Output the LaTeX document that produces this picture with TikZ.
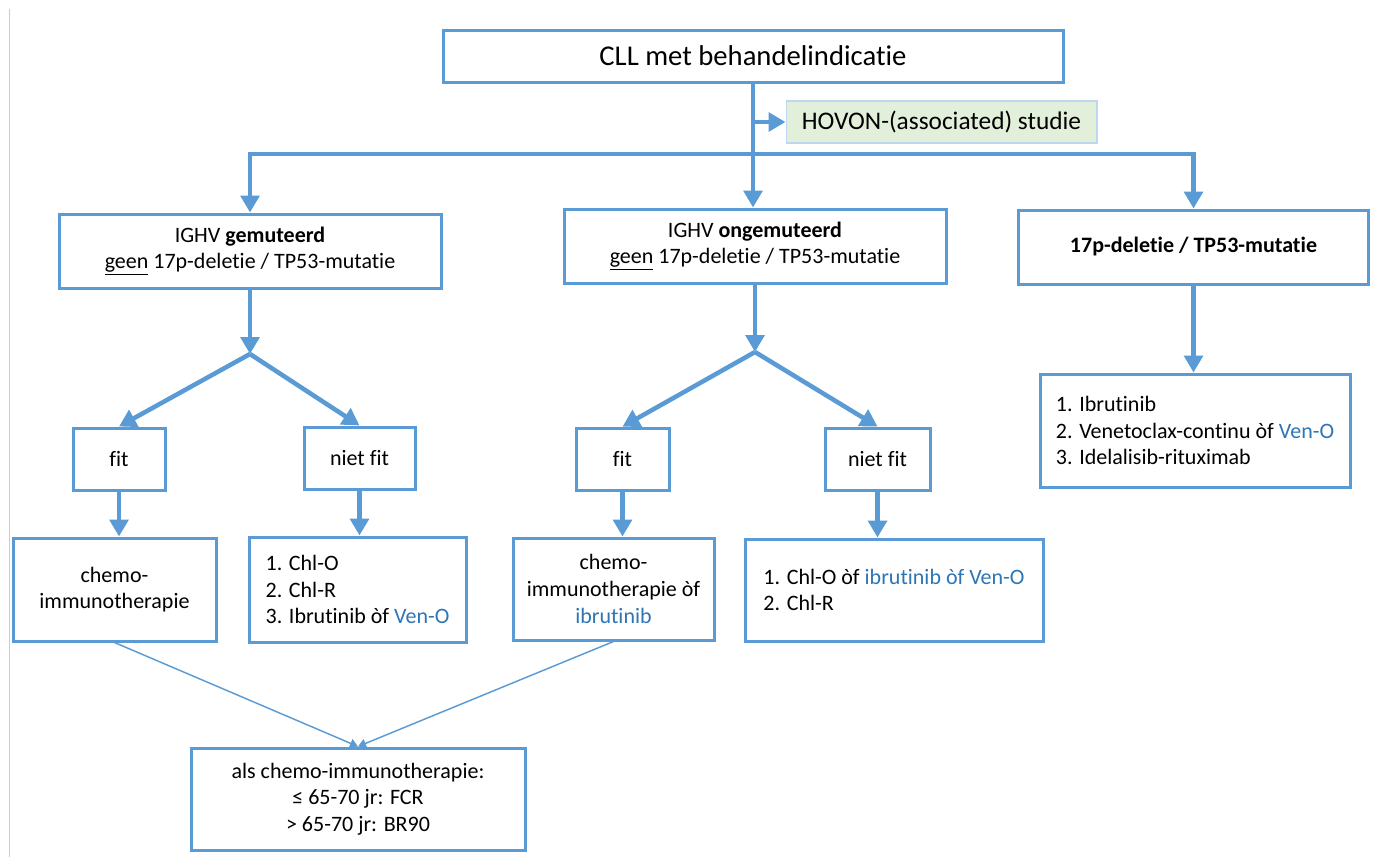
\documentclass[tikz,border=0pt]{standalone}
\usepackage{fontspec}
\setmainfont{Carlito}[Ligatures=NoCommon]
\usepackage{tikz}
\usetikzlibrary{arrows.meta, positioning}
\definecolor{flowblue}{HTML}{5B9BD5}
\definecolor{textblue}{HTML}{2E75B6}
\definecolor{studyfill}{HTML}{E2EFDA}
\definecolor{studyline}{HTML}{BDD7EE}

\begin{document}
\begin{tikzpicture}[x=0.75pt, y=-0.75pt,
    box/.style={rectangle, draw=flowblue, line width=2.25pt, fill=white,
                inner sep=0pt, align=center, font=\fontsize{16.5}{20}\selectfont},
    listbox/.style={box, align=left},
    studybox/.style={rectangle, draw=studyline, line width=1pt, fill=studyfill,
                     inner sep=0pt, font=\fontsize{19}{23}\selectfont},
    arrow/.style={-{Triangle[length=12.75pt, width=14pt]}, line width=3.4pt, draw=flowblue},
    thinarrow/.style={-{Triangle[length=6pt, width=7pt]}, line width=1.1pt, draw=flowblue}
]
    \useasboundingbox (0,0) rectangle (1373,857);
    \draw[black!20, line width=0.75pt] (9,9) -- (9,857);

    % top
    \node[box, minimum width=465pt, minimum height=39pt,
          font=\fontsize{21.5}{26}\selectfont] (cll) at (753,56) {CLL met behandelindicatie};
    \node[studybox, minimum width=233pt, minimum height=31.5pt] (hovon) at (941.5,122) {HOVON-(associated) studie};

    % groups
    \node[box, minimum width=286.5pt, minimum height=55.5pt] (ighvm) at (250,251)
        {IGHV \textbf{gemuteerd}\\\underline{geen} 17p-deletie / TP53-mutatie};
    \node[box, minimum width=286.5pt, minimum height=55.5pt] (ighvu) at (755,246)
        {IGHV \textbf{ongemuteerd}\\\underline{geen} 17p-deletie / TP53-mutatie};
    \node[box, minimum width=263pt, minimum height=55.5pt,
          font=\bfseries\fontsize{16.5}{20}\selectfont] (del17p) at (1193.5,247) {17p-deletie / TP53-mutatie};

    % fitness
    \node[box, minimum width=69pt, minimum height=46.5pt] (fitA) at (119,459) {fit};
    \node[box, minimum width=83.25pt, minimum height=46.5pt] (nfitA) at (359.5,458) {niet fit};
    \node[box, minimum width=69.75pt, minimum height=47pt] (fitB) at (622.5,459.5) {fit};
    \node[box, minimum width=78.75pt, minimum height=46.5pt] (nfitB) at (877.5,459) {niet fit};

    % treatment
    \node[box, minimum width=152.25pt, minimum height=77.25pt] (chemoA) at (114.5,589.5)
        {chemo-\\immunotherapie};
    \node[listbox, minimum width=162.75pt, minimum height=78.75pt] (listA) at (357.5,589.5)
        {1. Chl-O\\2. Chl-R\\3. Ibrutinib òf \textcolor{textblue}{Ven-O}};
    \node[box, minimum width=150.75pt, minimum height=76.5pt] (chemoB) at (613.5,589)
        {chemo-\\immunotherapie òf\\\textcolor{textblue}{ibrutinib}};
    \node[listbox, minimum width=223.5pt, minimum height=76.5pt] (listB) at (894,590)
        {1. Chl-O òf \textcolor{textblue}{ibrutinib òf Ven-O}\\2. Chl-R};
    \node[listbox, minimum width=232.5pt, minimum height=84.75pt] (listC) at (1195,430.5)
        {1. Ibrutinib\\2. Venetoclax-continu òf \textcolor{textblue}{Ven-O}\\3. Idelalisib-rituximab};
    \node[box, minimum width=250.5pt, minimum height=76.5pt] (age) at (358,799)
        {als chemo-immunotherapie:\\≤ 65-70 jr: FCR\\> 65-70 jr: BR90};

    \coordinate (bar) at (753,154);
    \coordinate (splitA) at (250,354);
    \coordinate (splitB) at (755,352);

    \draw[arrow] (cll.south) -- (cll.south |- ighvu.north);
    \draw[arrow] (cll.south |- hovon.west) -- (hovon.west);
    \draw[arrow] (bar) -| (ighvm.north);
    \draw[arrow] (bar) -| (del17p.north);

    \draw[arrow] (ighvm.south) -- (splitA);
    \draw[arrow] (splitA) -- (fitA.north);
    \draw[arrow] (splitA) -- (nfitA.north);
    \draw[arrow] (ighvu.south) -- (splitB);
    \draw[arrow] (splitB) -- (fitB.north);
    \draw[arrow] (splitB) -- (nfitB.north);
    \draw[arrow] (del17p.south) -- (del17p.south |- listC.north);

    \draw[arrow] (fitA.south) -- (fitA.south |- chemoA.north);
    \draw[arrow] (nfitA.south) -- (nfitA.south |- listA.north);
    \draw[arrow] (fitB.south) -- (fitB.south |- chemoB.north);
    \draw[arrow] (nfitB.south) -- (nfitB.south |- listB.north);

    \draw[thinarrow] (chemoA.south) -- (age.north);
    \draw[thinarrow] (chemoB.south) -- (age.north);
\end{tikzpicture}
\end{document}
